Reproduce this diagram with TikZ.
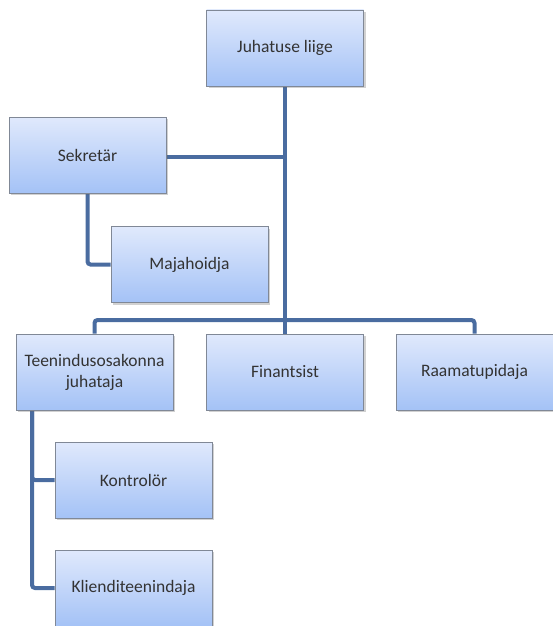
\documentclass[tikz,border=0pt]{standalone}
\usepackage{fontspec}
\setmainfont{Carlito}
\usetikzlibrary{shadows}
\pgfdeclarelayer{background}
\pgfsetlayers{background,main}
\definecolor{boxtop}{RGB}{224,233,252}
\definecolor{boxbot}{RGB}{164,194,246}
\definecolor{boxedge}{RGB}{128,136,150}
\definecolor{linkc}{RGB}{74,108,160}
\tikzset{
  orgbox/.style={draw=boxedge, line width=0.8pt, top color=boxtop, bottom color=boxbot,
    minimum width=157pt, minimum height=76pt, inner sep=2pt, align=center,
    font=\fontsize{17.5}{21}\selectfont, text=black!80,
    drop shadow={shadow xshift=2pt, shadow yshift=-2pt, opacity=0.3, fill=black!60}},
  link/.style={draw=linkc, line width=4pt, rounded corners=3pt}
}
\begin{document}
\begin{tikzpicture}[x=1pt,y=-1pt]
\useasboundingbox (0,0) rectangle (552,626);
\node[orgbox] (jl) at (285,48) {Juhatuse liige};
\node[orgbox] (sk) at (87.5,155) {Sekretär};
\node[orgbox] (mj) at (189.5,264.5) {Majahoidja};
\node[orgbox] (tj) at (94.5,372) {Teenindusosakonna\\juhataja};
\node[orgbox] (fi) at (285,372) {Finantsist};
\node[orgbox] (rp) at (474.5,372) {Raamatupidaja};
\node[orgbox] (ko) at (133.5,480) {Kontrolör};
\node[orgbox] (kt) at (133.5,588) {Klienditeenindaja};
\coordinate (bus) at (285,320);
\coordinate (sj) at (285,157);
\coordinate (tv) at (32,410);
\begin{pgfonlayer}{background}
\draw[link] (jl.south) -- (fi.north);
\draw[link] (sk.east |- sj) -- (sj);
\draw[link] (tj.north) -- (tj.north |- bus) -- (rp.north |- bus) -- (rp.north);
\draw[link] (sk.south) |- (mj.west);
\draw[link] (tv) |- (ko.west);
\draw[link] (tv) |- (kt.west);
\end{pgfonlayer}
\end{tikzpicture}
\end{document}
